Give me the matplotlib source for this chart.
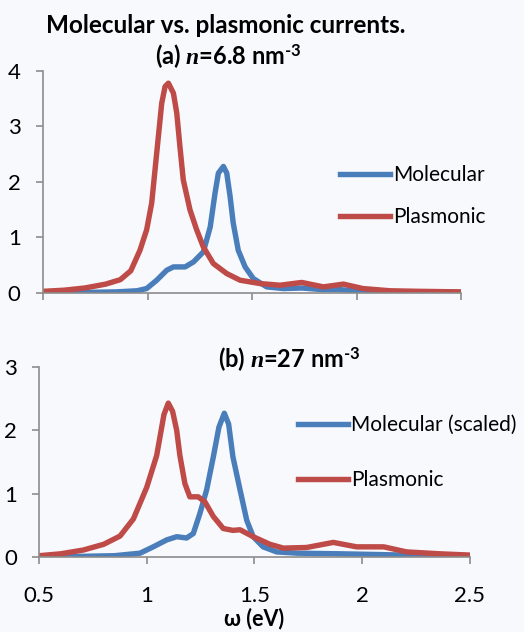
import matplotlib.pyplot as plt

# panel (a), n = 6.8 nm^-3
xa_mol = [0.5, 0.7, 0.85, 0.95, 0.996, 1.044, 1.092, 1.124, 1.18, 1.22, 1.267, 1.30, 1.323, 1.339,
          1.363, 1.379, 1.395, 1.41, 1.434, 1.467, 1.506, 1.57, 1.65, 1.738, 1.84, 1.92, 2.0, 2.2, 2.5]
ya_mol = [0.0, 0.01, 0.02, 0.04, 0.08, 0.23, 0.41, 0.47, 0.47, 0.56, 0.74, 1.19, 1.8, 2.16,
          2.28, 2.16, 1.74, 1.26, 0.77, 0.47, 0.26, 0.11, 0.08, 0.09, 0.06, 0.06, 0.04, 0.02, 0.01]
xa_pla = [0.5, 0.6, 0.7, 0.8, 0.87, 0.92, 0.964, 0.996, 1.02, 1.036, 1.052, 1.068, 1.084, 1.10,
          1.124, 1.14, 1.155, 1.171, 1.203, 1.235, 1.267, 1.315, 1.379, 1.443, 1.538, 1.634,
          1.738, 1.841, 1.937, 2.03, 2.16, 2.3, 2.5]
ya_pla = [0.03, 0.05, 0.09, 0.16, 0.24, 0.4, 0.77, 1.14, 1.62, 2.22, 2.82, 3.42, 3.72, 3.78,
          3.6, 3.24, 2.64, 2.04, 1.5, 1.14, 0.83, 0.53, 0.35, 0.23, 0.17, 0.14,
          0.19, 0.11, 0.16, 0.08, 0.04, 0.03, 0.02]

# panel (b), n = 27 nm^-3
xb_mol = [0.5, 0.7, 0.85, 0.969, 1.03, 1.093, 1.139, 1.185, 1.216, 1.247, 1.278, 1.309, 1.335,
          1.36, 1.38, 1.40, 1.433, 1.464, 1.494, 1.54, 1.603, 1.7, 1.9, 2.2, 2.5]
yb_mol = [0.0, 0.01, 0.02, 0.06, 0.16, 0.27, 0.32, 0.3, 0.37, 0.69, 1.06, 1.58, 2.05,
          2.27, 2.1, 1.58, 1.06, 0.58, 0.32, 0.16, 0.08, 0.06, 0.05, 0.03, 0.01]
xb_pla = [0.5, 0.6, 0.706, 0.8, 0.876, 0.938, 1.0, 1.046, 1.08, 1.10, 1.12, 1.139, 1.154, 1.177,
          1.20, 1.239, 1.27, 1.309, 1.355, 1.40, 1.433, 1.494, 1.572, 1.634, 1.742, 1.866,
          1.974, 2.1, 2.206, 2.36, 2.5]
yb_pla = [0.02, 0.05, 0.11, 0.2, 0.33, 0.6, 1.1, 1.6, 2.25, 2.43, 2.3, 2.0, 1.6, 1.16,
          0.95, 0.95, 0.87, 0.64, 0.45, 0.42, 0.43, 0.32, 0.2, 0.14, 0.15, 0.23,
          0.16, 0.16, 0.08, 0.05, 0.03]

xticks = [0.5, 1, 1.5, 2, 2.5]
xticklabels = ['0.5', '1', '1.5', '2', '2.5']

blue = '#4a7ebb'
red = '#be4b48'
bg = '#f8f9fd'
grey = '#8c8c8c'

plt.rcParams['font.family'] = ['Lato', 'DejaVu Sans']
plt.rcParams['mathtext.fontset'] = 'custom'
plt.rcParams['mathtext.rm'] = 'Lato:bold'
plt.rcParams['mathtext.bf'] = 'Lato:bold'
plt.rcParams['mathtext.it'] = 'Liberation Serif:italic:bold'

fig = plt.figure(figsize=(5.24, 6.32), dpi=100, facecolor=bg)
ax1 = fig.add_axes([0.082, 0.5364, 0.798, 0.3513])
ax2 = fig.add_axes([0.0744, 0.1187, 0.8225, 0.3006])

for ax in (ax1, ax2):
    ax.set_facecolor(bg)
    for s in ('top', 'right'):
        ax.spines[s].set_visible(False)
    for s in ('left', 'bottom'):
        ax.spines[s].set_color(grey)
        ax.spines[s].set_linewidth(1.2)
    ax.set_xlim(0.5, 2.5)
    ax.set_xticks(xticks)
    ax.tick_params(axis='both', colors=grey, labelcolor='black', labelsize=16, length=5, width=1.2)
    ax.tick_params(axis='y', pad=11)
    ax.tick_params(axis='x', pad=16)

ax1.plot(xa_mol, ya_mol, color=blue, lw=3.9, solid_joinstyle='round', label='Molecular')
ax1.plot(xa_pla, ya_pla, color=red, lw=3.9, solid_joinstyle='round', label='Plasmonic')
ax1.set_ylim(0, 4)
ax1.set_yticks([0, 1, 2, 3, 4])
ax1.set_xticklabels([])
ax1.legend(loc='upper left', bbox_to_anchor=(0.71, 0.575), frameon=False, fontsize=15,
           handlelength=2.4, handletextpad=0.15, labelspacing=1.05, borderaxespad=0, borderpad=0)

ax2.plot(xb_mol, yb_mol, color=blue, lw=3.9, solid_joinstyle='round', label='Molecular (scaled)')
ax2.plot(xb_pla, yb_pla, color=red, lw=3.9, solid_joinstyle='round', label='Plasmonic')
ax2.set_ylim(0, 3)
ax2.set_yticks([0, 1, 2, 3])
ax2.set_xticklabels(xticklabels)
ax2.legend(loc='upper left', bbox_to_anchor=(0.601, 0.748), frameon=False, fontsize=15,
           handlelength=2.4, handletextpad=0.15, labelspacing=1.7, borderaxespad=0, borderpad=0)
ax2.set_xlabel('ω (eV)', fontsize=15.5, fontweight='bold', labelpad=1)

fig.text(0.43, 0.96, 'Molecular vs. plasmonic currents.', ha='center', va='center',
         fontsize=17.5, fontweight='bold')
fig.text(0.435, 0.91, r'(a) $\mathit{n}$=6.8 nm$^{\mathrm{‐3}}$', ha='center', va='center',
         fontsize=17, fontweight='bold')
fig.text(0.552, 0.43, r'(b) $\mathit{n}$=27 nm$^{\mathrm{‐3}}$', ha='center', va='center',
         fontsize=17, fontweight='bold')

fig.savefig('out.png', dpi=100, facecolor=bg)
